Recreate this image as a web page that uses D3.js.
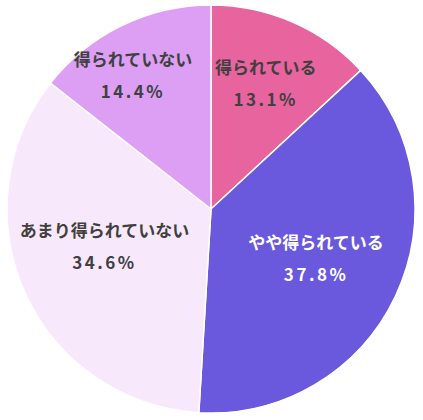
<!DOCTYPE html>
<html>
<head>
<meta charset="utf-8">
<script src="https://cdn.jsdelivr.net/npm/d3@7"></script>
<style>
  body { margin: 0; background: #fff; }
  text { font-family: "Noto Sans CJK JP", sans-serif; font-weight: bold; }
</style>
</head>
<body>
<div id="pie"></div>
<script>
// data
var categories = ["得られている", "やや得られている", "あまり得られていない", "得られていない"];
var values = [13.1, 37.8, 34.6, 14.4];
var colors = ["#e8649f", "#6a58dd", "#f8e8fc", "#dc9ff4"];
var textColors = ["#404040", "#ffffff", "#404040", "#404040"];
// label distance from center (fraction of radius) and angle tweak (degrees)
var labelPos = [0.67, 0.57, 0.555, 0.755];
var labelTurn = [0, 0, 4.5, -4.5];

var width = 423, height = 420,
    radius = 204;

var svg = d3.select("#pie")
    .append("svg")
    .attr("width", width)
    .attr("height", height)
    .append("g")
    .attr("transform", "translate(211,209)");

var data = categories.map(function (c, i) {
    return { name: c, value: values[i], i: i };
});

var pie = d3.pie()
    .sort(null)
    .value(function (d) { return d.value; });

var arc = d3.arc().innerRadius(0).outerRadius(radius);

var slices = svg.selectAll("g.slice")
    .data(pie(data))
    .enter()
    .append("g")
    .attr("class", "slice");

slices.append("path")
    .attr("d", arc)
    .attr("fill", function (d) { return colors[d.data.i]; })
    .attr("stroke", "#fff")
    .attr("stroke-width", 1.5);

// labels
slices.each(function (d) {
    var r = radius * labelPos[d.data.i];
    var a = (d.startAngle + d.endAngle) / 2 + labelTurn[d.data.i] * Math.PI / 180;
    var lx = Math.sin(a) * r, ly = -Math.cos(a) * r;
    var g = d3.select(this).append("g")
        .attr("transform", "translate(" + lx + "," + ly + ")")
        .attr("fill", textColors[d.data.i])
        .attr("text-anchor", "middle");
    g.append("text")
        .attr("y", -10)
        .attr("font-size", 17)
        .text(d.data.name);
    g.append("text")
        .attr("y", 22)
        .attr("font-size", 17)
        .attr("letter-spacing", 2.5)
        .text(d.data.value.toFixed(1) + "%");
});
</script>
</body>
</html>
